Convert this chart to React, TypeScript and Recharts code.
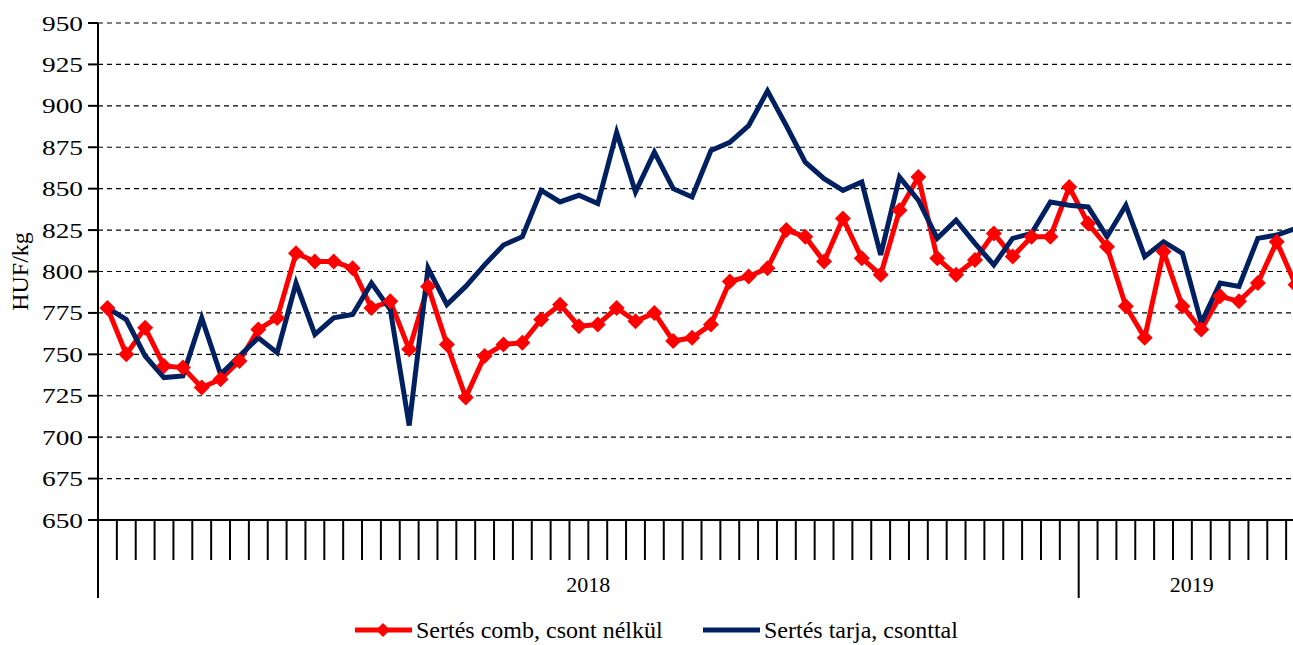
import { LineChart, Line, XAxis, YAxis, CartesianGrid, Legend } from 'recharts';

// Sertés comb, csont nélkül (HUF/kg), heti árak 2018 w1 .. 2019 w12
const comb = [
  778, 750, 766, 743, 742, 730, 735, 746, 765, 772, 811, 806, 806, 802, 778, 782, 753, 791, 756, 724,
  749, 756, 757, 771, 780, 767, 768, 778, 770, 775, 758, 760, 768, 794, 797, 802, 825, 821, 806, 832,
  808, 798, 837, 857, 808, 798, 807, 823, 809, 821, 821, 851,
  829, 815, 779, 760, 812, 779, 765, 785, 782, 793, 818, 792,
];

// Sertés tarja, csonttal (HUF/kg)
const tarja = [
  778, 771, 749, 736, 737, 772, 738, 749, 760, 751, 793, 762, 772, 774, 793, 777, 707, 802, 780, 791,
  804, 816, 821, 849, 842, 846, 841, 884, 848, 872, 850, 845, 873, 878, 888, 909, 888, 866, 856, 849,
  854, 810, 857, 843, 820, 831, 817, 804, 820, 823, 842, 840,
  839, 821, 840, 809, 818, 811, 769, 793, 791, 820, 822, 826,
];

const years = ['2018', '2019'];
const yearWeeks = [52, 12];
const yTicks = [650, 675, 700, 725, 750, 775, 800, 825, 850, 875, 900, 925, 950];

const COMB_NAME = 'Sertés comb, csont nélkül';
const TARJA_NAME = 'Sertés tarja, csonttal';
const RED = '#FF0000';
const BLUE = '#002060';
const FONT = '"Liberation Serif", "Times New Roman", serif';

const totalWeeks = yearWeeks.reduce((a, b) => a + b, 0);
const data = comb.map((v, i) => ({ x: i + 0.5, comb: v, tarja: tarja[i] }));
const xTicks = Array.from({ length: totalWeeks + 1 }, (_, i) => i);

// year boundaries and label centres (in week units)
const yearStarts: number[] = [];
yearWeeks.reduce((acc, w) => {
  yearStarts.push(acc);
  return acc + w;
}, 0);
const yearCenters = yearStarts.map((s, i) => s + yearWeeks[i] / 2);

const XTick = (props: any) => {
  const { x, y, payload } = props;
  const v = payload.value;
  const boundary = yearStarts.includes(v);
  const yi = yearCenters.indexOf(v);
  return (
    <g>
      <line x1={x} x2={x} y1={y} y2={y + (boundary ? 78 : 40)} stroke="#000" strokeWidth={2} />
      {yi >= 0 && (
        <text x={x} y={y + 72} textAnchor="middle" fontSize={22} fontFamily={FONT} fill="#000">
          {years[yi]}
        </text>
      )}
    </g>
  );
};

const YTick = (props: any) => {
  const { x, y, payload } = props;
  return (
    <text
      x={x}
      y={y}
      dy={7.5}
      textAnchor="end"
      fontSize={22}
      fontFamily={FONT}
      fill="#000"
      textLength={41}
      lengthAdjust="spacingAndGlyphs"
    >
      {payload.value}
    </text>
  );
};

const YLabel = (props: any) => {
  const vb = props.viewBox || {};
  const cy = vb.height ? vb.y + vb.height / 2 : 271.5;
  const x = 28;
  return (
    <text
      x={x}
      y={cy}
      transform={`rotate(-90, ${x}, ${cy})`}
      textAnchor="middle"
      fontSize={24}
      fontFamily={FONT}
      fill="#000"
    >
      HUF/kg
    </text>
  );
};

const Diamond = (props: any) => {
  const { cx, cy, index } = props;
  if (cx == null || cy == null) return null;
  const r = 8;
  return (
    <path
      key={`d-${index}`}
      d={`M${cx},${cy - r}L${cx + r},${cy}L${cx},${cy + r}L${cx - r},${cy}Z`}
      fill={RED}
      stroke="none"
    />
  );
};

const renderLegend = () => (
  <div style={{ position: 'relative', height: 26, fontFamily: FONT, fontSize: 24, lineHeight: '24px', color: '#000' }}>
    <div style={{ position: 'absolute', left: 355, top: 0, display: 'flex', alignItems: 'center', whiteSpace: 'nowrap' }}>
      <svg width={58} height={20} style={{ marginRight: 3 }}>
        <line x1={0} x2={57} y1={10} y2={10} stroke={RED} strokeWidth={5} />
        <path d="M28,3L35,10L28,17L21,10Z" fill={RED} />
      </svg>
      <span>{COMB_NAME}</span>
    </div>
    <div style={{ position: 'absolute', left: 703, top: 0, display: 'flex', alignItems: 'center', whiteSpace: 'nowrap' }}>
      <svg width={58} height={20} style={{ marginRight: 3 }}>
        <line x1={0} x2={57} y1={10} y2={10} stroke={BLUE} strokeWidth={5} />
      </svg>
      <span>{TARJA_NAME}</span>
    </div>
  </div>
);

export default function App() {
  return (
    <div style={{ position: 'absolute', left: 0, top: 0, width: 1293, height: 645, overflow: 'hidden', background: '#fff' }}>
      <LineChart width={1305} height={645} data={data} margin={{ top: 23, right: 0, bottom: 0, left: 0 }}>
        <CartesianGrid vertical={false} stroke="#000" strokeWidth={1.2} strokeDasharray="5 4" />
        <XAxis
          type="number"
          dataKey="x"
          domain={[0, totalWeeks]}
          ticks={xTicks}
          interval={0}
          height={125}
          tickSize={0}
          tickMargin={0}
          tickLine={false}
          tick={<XTick />}
          axisLine={{ stroke: '#000', strokeWidth: 2 }}
        />
        <YAxis
          domain={[650, 950]}
          ticks={yTicks}
          interval={0}
          width={98}
          tickSize={10}
          tickMargin={5}
          tick={<YTick />}
          tickLine={{ stroke: '#000', strokeWidth: 2 }}
          axisLine={{ stroke: '#000', strokeWidth: 2 }}
          label={<YLabel />}
        />
        <Legend
          verticalAlign="middle"
          align="center"
          layout="horizontal"
          content={renderLegend}
          wrapperStyle={{ top: 618, left: 0, width: 1293, height: 26 }}
        />
        <Line
          type="linear"
          dataKey="comb"
          name={COMB_NAME}
          stroke={RED}
          strokeWidth={5}
          dot={Diamond}
          activeDot={false}
          isAnimationActive={false}
        />
        <Line
          type="linear"
          dataKey="tarja"
          name={TARJA_NAME}
          stroke={BLUE}
          strokeWidth={5}
          dot={false}
          activeDot={false}
          isAnimationActive={false}
        />
      </LineChart>
    </div>
  );
}
